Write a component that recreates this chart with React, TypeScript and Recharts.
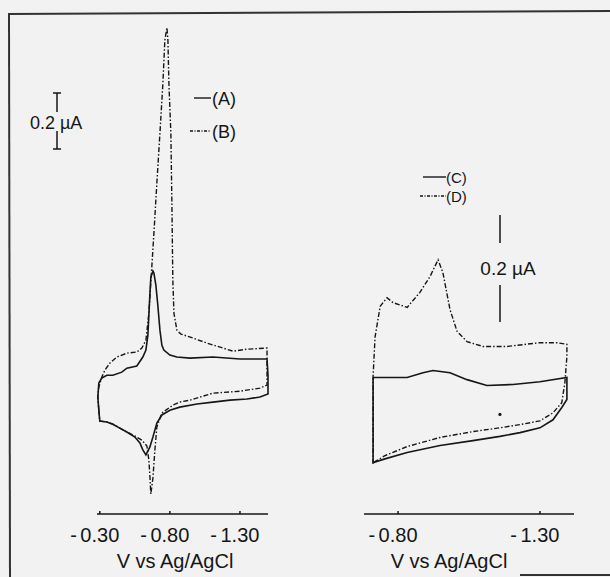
import React from "react";
import { LineChart, Line, XAxis, YAxis, ReferenceDot } from "recharts";

// potentials in V (vs Ag/AgCl), currents in µA

// left panel, curve (A), solid
const aV = [-0.293, -0.3, -0.35, -0.393, -0.443, -0.493, -0.55, -0.586, -0.607, -0.629, -0.657, -0.679, -0.707, -0.743, -0.8, -0.871, -0.993, -1.107, -1.229, -1.35, -1.443, -1.5, -1.5, -1.493, -1.3, -1.107, -0.943, -0.85, -0.8, -0.757, -0.743, -0.729, -0.714, -0.7, -0.686, -0.679, -0.664, -0.657, -0.643, -0.629, -0.607, -0.564, -0.493, -0.457, -0.393, -0.35, -0.314, -0.293, -0.286, -0.293];
const aI = [-0.109, -0.148, -0.151, -0.159, -0.173, -0.187, -0.205, -0.226, -0.251, -0.269, -0.241, -0.205, -0.155, -0.126, -0.109, -0.098, -0.087, -0.08, -0.073, -0.069, -0.062, -0.051, 0.016, 0.074, 0.074, 0.081, 0.077, 0.081, 0.088, 0.106, 0.123, 0.177, 0.266, 0.338, 0.381, 0.388, 0.366, 0.302, 0.159, 0.106, 0.081, 0.049, 0.041, 0.027, 0.016, 0.016, 0.006, -0.012, -0.062, -0.109];

// left panel, curve (B), dash-dot
const bV = [-0.293, -0.3, -0.35, -0.393, -0.443, -0.493, -0.55, -0.6, -0.636, -0.65, -0.657, -0.664, -0.679, -0.693, -0.707, -0.743, -0.821, -0.871, -0.943, -1.107, -1.3, -1.443, -1.493, -1.493, -1.35, -1.25, -1.179, -1.064, -0.964, -0.879, -0.85, -0.829, -0.821, -0.814, -0.807, -0.793, -0.786, -0.779, -0.764, -0.75, -0.729, -0.707, -0.686, -0.671, -0.65, -0.629, -0.6, -0.564, -0.493, -0.421, -0.371, -0.336, -0.314, -0.293, -0.286, -0.293];
const bI = [-0.109, -0.148, -0.151, -0.159, -0.173, -0.187, -0.201, -0.216, -0.237, -0.287, -0.341, -0.409, -0.351, -0.251, -0.169, -0.119, -0.091, -0.08, -0.073, -0.048, -0.041, -0.03, -0.019, 0.113, 0.109, 0.102, 0.113, 0.131, 0.149, 0.163, 0.177, 0.238, 0.356, 0.641, 0.881, 1.059, 1.213, 1.259, 1.213, 1.059, 0.881, 0.702, 0.524, 0.403, 0.238, 0.141, 0.113, 0.099, 0.095, 0.081, 0.059, 0.034, 0.009, -0.026, -0.062, -0.109];

// right panel, curve (C), solid
const cV = [-0.712, -0.832, -0.888, -0.923, -0.983, -1.043, -1.113, -1.205, -1.3, -1.395, -1.395, -1.377, -1.346, -1.3, -1.23, -1.159, -1.064, -0.948, -0.832, -0.754, -0.712, -0.712];
const cI = [0.045, 0.045, 0.054, 0.058, 0.054, 0.041, 0.03, 0.032, 0.037, 0.045, 0.004, -0.011, -0.034, -0.049, -0.058, -0.065, -0.073, -0.082, -0.095, -0.107, -0.114, 0.045];

// right panel, curve (D), dash-dot
const dV = [-0.712, -0.712, -0.719, -0.737, -0.761, -0.782, -0.832, -0.877, -0.913, -0.941, -0.958, -0.983, -1.008, -1.043, -1.099, -1.184, -1.3, -1.36, -1.395, -1.395, -1.388, -1.377, -1.346, -1.3, -1.23, -1.159, -1.064, -0.948, -0.832, -0.754, -0.719, -0.712];
const dI = [-0.116, 0.047, 0.121, 0.178, 0.194, 0.185, 0.176, 0.204, 0.234, 0.265, 0.241, 0.172, 0.131, 0.112, 0.103, 0.103, 0.11, 0.11, 0.107, 0.084, 0.036, -0.002, -0.021, -0.036, -0.043, -0.049, -0.056, -0.067, -0.084, -0.101, -0.112, -0.116];

const leftTicks = [-0.3, -0.8, -1.3];
const rightTicks = [-0.8, -1.3];

const toPts = (vs: number[], is: number[]) => vs.map((v, k) => ({ v, i: is[k] }));

const ink = "#161616";
const font = "'Liberation Sans', Arial, sans-serif";
const dashDot = "5 2 1.5 2";

const VoltTick = (props: any) => {
  const { x, y, payload } = props;
  const num = Math.abs(payload.value).toFixed(2);
  return (
    <g>
      <line x1={x} y1={y} x2={x} y2={y - 3} stroke={ink} strokeWidth={1.5} />
      <text x={x - 23} y={y + 28} textAnchor="end" fontSize={20} fill={ink} fontFamily={font}>-</text>
      <text x={x} y={y + 28} textAnchor="middle" fontSize={20} fill={ink} fontFamily={font}>{num}</text>
    </g>
  );
};

export default function App() {
  return (
    <div style={{ position: "absolute", left: 0, top: 0, width: 610, height: 577, background: "#f2f2f2", overflow: "hidden" }}>
      <div style={{ position: "absolute", left: 0, top: 0 }}>
        <LineChart width={300} height={577} margin={{ top: 16, right: 32, bottom: 23, left: 97 }}>
          <XAxis type="number" dataKey="v" domain={[-1.5, -0.28]} reversed ticks={leftTicks} interval={0}
            tick={<VoltTick />} tickLine={false} tickSize={0} tickMargin={0} height={40}
            axisLine={{ stroke: ink, strokeWidth: 1.6 }} />
          <YAxis type="number" dataKey="i" domain={[-0.48, 1.3]} hide width={0} />
          <Line data={toPts(aV, aI)} dataKey="i" type="linear" stroke={ink} strokeWidth={1.6} dot={false} isAnimationActive={false} />
          <Line data={toPts(bV, bI)} dataKey="i" type="linear" stroke={ink} strokeWidth={1.4} strokeDasharray={dashDot} dot={false} isAnimationActive={false} />
        </LineChart>
      </div>
      <div style={{ position: "absolute", left: 300, top: 0 }}>
        <LineChart width={310} height={577} margin={{ top: 150, right: 36, bottom: 23, left: 64 }}>
          <XAxis type="number" dataKey="v" domain={[-1.42, -0.68]} reversed ticks={rightTicks} interval={0}
            tick={<VoltTick />} tickLine={false} tickSize={0} tickMargin={0} height={40}
            axisLine={{ stroke: ink, strokeWidth: 1.6 }} />
          <YAxis type="number" dataKey="i" domain={[-0.21, 0.47]} hide width={0} />
          <Line data={toPts(cV, cI)} dataKey="i" type="linear" stroke={ink} strokeWidth={1.6} dot={false} isAnimationActive={false} />
          <Line data={toPts(dV, dI)} dataKey="i" type="linear" stroke={ink} strokeWidth={1.4} strokeDasharray={dashDot} dot={false} isAnimationActive={false} />
          <ReferenceDot x={-1.159} y={-0.024} r={1.6} fill={ink} stroke="none" />
        </LineChart>
      </div>
      <svg width={610} height={577} style={{ position: "absolute", left: 0, top: 0, pointerEvents: "none" }}>
        {/* frame */}
        <line x1={9} y1={13} x2={10} y2={577} stroke="#333" strokeWidth={2} />
        <line x1={8} y1={14} x2={610} y2={11} stroke="#333" strokeWidth={2} />
        <line x1={520} y1={575} x2={610} y2={575} stroke="#333" strokeWidth={2} />

        {/* left scale bar */}
        <g stroke={ink} strokeWidth={1.5}>
          <line x1={57} y1={93} x2={57} y2={112} />
          <line x1={57} y1={131} x2={57} y2={149} />
          <line x1={53} y1={93} x2={61} y2={93} />
          <line x1={53} y1={149} x2={61} y2={149} />
        </g>
        <text x={55} y={129} textAnchor="end" fontSize={18} fill={ink} fontFamily={font}>0.2</text>
        <text x={60} y={129} fontSize={18} fill={ink} fontFamily={font}>µA</text>

        {/* legend A / B */}
        <line x1={194} y1={98} x2={211} y2={98} stroke={ink} strokeWidth={1.4} />
        <text x={212} y={105} fontSize={18} fill={ink} fontFamily={font}>(A)</text>
        <line x1={190} y1={131} x2={211} y2={131} stroke={ink} strokeWidth={1.3} strokeDasharray="3 1.5 1 1.5" />
        <text x={212} y={138} fontSize={18} fill={ink} fontFamily={font}>(B)</text>

        {/* legend C / D */}
        <line x1={423} y1={177} x2={446} y2={177} stroke={ink} strokeWidth={1.4} />
        <text x={446} y={183} fontSize={15} fill={ink} fontFamily={font}>(C)</text>
        <line x1={420} y1={196} x2={446} y2={196} stroke={ink} strokeWidth={1.3} strokeDasharray="3 1.5 1 1.5" />
        <text x={446} y={202} fontSize={15} fill={ink} fontFamily={font}>(D)</text>

        {/* right scale bar */}
        <line x1={500} y1={215} x2={500} y2={243} stroke={ink} strokeWidth={1.5} />
        <line x1={500} y1={285} x2={500} y2={322} stroke={ink} strokeWidth={1.5} />
        <text x={508} y={275} textAnchor="middle" fontSize={19} fill={ink} fontFamily={font}>0.2 µA</text>

        {/* axis titles */}
        <text x={175} y={568} textAnchor="middle" fontSize={20} fill={ink} fontFamily={font}>V vs Ag/AgCl</text>
        <text x={449} y={568} textAnchor="middle" fontSize={20} fill={ink} fontFamily={font}>V vs Ag/AgCl</text>
      </svg>
    </div>
  );
}
